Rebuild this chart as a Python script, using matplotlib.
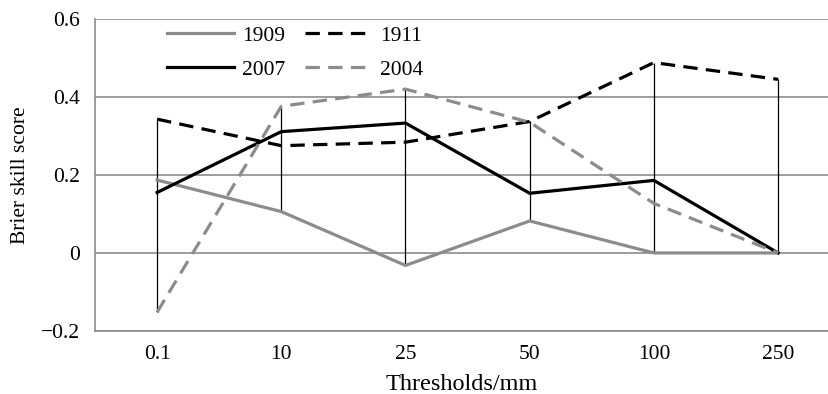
import matplotlib.pyplot as plt
import numpy as np

# thresholds and Brier skill scores
thresholds = ["0.1", "10", "25", "50", "100", "250"]
bss_1909 = [0.187, 0.106, -0.032, 0.082, 0.0, 0.0]
bss_1911 = [0.343, 0.275, 0.284, 0.337, 0.488, 0.445]
bss_2007 = [0.155, 0.311, 0.333, 0.153, 0.186, 0.0]
bss_2004 = [-0.152, 0.376, 0.420, 0.335, 0.127, 0.0]

plt.rcParams["font.family"] = ["Liberation Serif", "DejaVu Serif"]

fig = plt.figure(figsize=(8.29, 3.94), dpi=100)
ax = fig.add_axes([0.1146, 0.160, 0.8854, 0.792])

x = np.arange(len(thresholds))
allv = np.array([bss_1909, bss_1911, bss_2007, bss_2004])

# high-low lines
ax.vlines(x, allv.min(axis=0), allv.max(axis=0), color="black", lw=0.9, zorder=2)

grey = "#8c8c8c"
ax.plot(x, bss_1909, color=grey, lw=2.3, label="1909", zorder=3)
ax.plot(x, bss_1911, color="black", lw=2.3, dashes=(4.5, 2.6), label="1911", zorder=3)
ax.plot(x, bss_2007, color="black", lw=2.3, label="2007", zorder=3)
ax.plot(x, bss_2004, color=grey, lw=2.3, dashes=(4.5, 2.6), label="2004", zorder=3)

ax.set_xlim(-0.5, 5.41)
ax.set_ylim(-0.2, 0.6)
ax.set_xticks(x)
ax.set_xticklabels(thresholds)
ax.set_yticks([-0.2, 0, 0.2, 0.4, 0.6])
ax.set_yticklabels(["\u22120.2", "0", "0.2", "0.4", "0.6"])
ax.tick_params(length=0, labelsize=15.5)
ax.tick_params(axis="y", pad=11)
ax.tick_params(axis="x", pad=10)

ax.grid(axis="y", color=grey, lw=1.2)
ax.set_axisbelow(True)
for s in ["top", "right"]:
    ax.spines[s].set_visible(False)
ax.spines["left"].set_color(grey)
ax.spines["left"].set_linewidth(1.2)
ax.spines["bottom"].set_color(grey)
ax.spines["bottom"].set_linewidth(1.2)

ax.set_xlabel("Thresholds/mm", fontsize=17.5, labelpad=7)
ax.set_ylabel("Brier skill score", fontsize=15.5, labelpad=8)

# legend order: 1909, 1911 / 2007, 2004 in two rows
h, l = ax.get_legend_handles_labels()
order = [0, 2, 1, 3]
ax.legend([h[i] for i in order], [l[i] for i in order], ncol=2, frameon=False,
          loc="upper left", bbox_to_anchor=(0.098, 0.978), fontsize=15.5,
          borderpad=0, borderaxespad=0,
          handlelength=3.1, columnspacing=0.9, handletextpad=0.4, labelspacing=0.65)

fig.savefig("out.png", dpi=100)
